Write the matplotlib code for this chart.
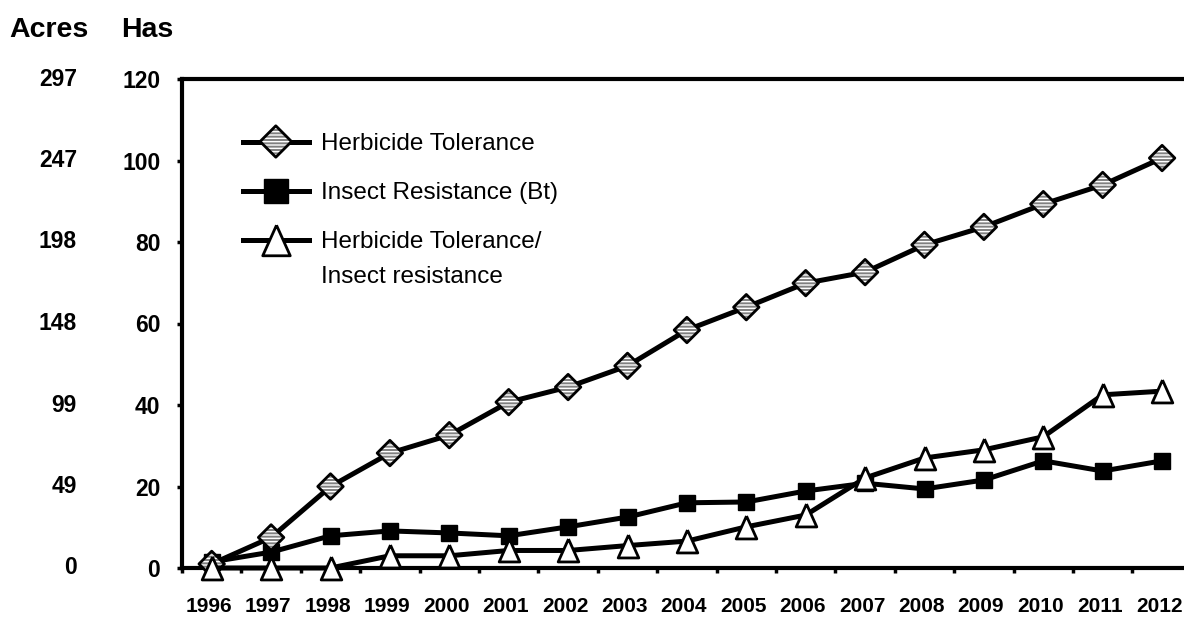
import matplotlib.pyplot as plt
from matplotlib.lines import Line2D
from matplotlib.legend_handler import HandlerTuple
from matplotlib import transforms

plt.rcParams['font.family'] = ['Liberation Sans', 'DejaVu Sans']

years = list(range(1996, 2013))
herbicide = [1.0, 7.5, 20.0, 28.2, 32.6, 40.7, 44.4, 49.6, 58.4, 64.0, 69.9, 72.6, 79.3, 83.7, 89.3, 94.0, 100.6]
insect = [1.5, 3.9, 7.9, 9.1, 8.6, 7.9, 10.1, 12.5, 16.0, 16.2, 18.9, 20.8, 19.4, 21.6, 26.3, 23.8, 26.3]
stacked = [0, 0, 0, 3.0, 3.0, 4.3, 4.3, 5.5, 6.6, 10.1, 13.0, 22.1, 27.0, 29.0, 32.2, 42.5, 43.4]
has_ticks = [0, 20, 40, 60, 80, 100, 120]
acres_labels = ['0', '49', '99', '148', '198', '247', '297']
labels = ['Herbicide Tolerance', 'Insect Resistance (Bt)', 'Herbicide Tolerance/']
label3_line2 = 'Insect resistance'

W, H = 1184, 619
fig = plt.figure(figsize=(W / 100, H / 100), dpi=100)
ax = fig.add_axes([182 / W, 1 - 568 / H, 1 - 182 / W, (568 - 79) / H])

lw = 3.6
tri = [(0, 1), (-0.9, -1), (0.9, -1), (0, 1)]
tick_fs = 16.5

# herbicide tolerance: line + hatched grey diamonds
ax.plot(years, herbicide, color='black', lw=lw, zorder=3, clip_on=False)
ax.scatter(years, herbicide, s=169, marker='D', facecolor='#808080', edgecolor='white',
           linewidths=0, hatch='-----', zorder=4, clip_on=False)
ax.scatter(years, herbicide, s=169, marker='D', facecolor='none', edgecolor='black',
           linewidths=2, zorder=5, clip_on=False)

# insect resistance
ax.plot(years, insect, color='black', lw=lw, marker='s', ms=12, mfc='black', mec='black',
        zorder=3, clip_on=False)

# stacked traits
ax.plot(years, stacked, color='black', lw=lw, marker=tri, ms=16.5, mfc='white', mec='black',
        mew=2, zorder=6, clip_on=False)

ax.set_xlim(1995.5, 1995.5 + (W - 182) / 59.4)
ax.set_ylim(0, 120)

for s in ['left', 'top', 'bottom']:
    ax.spines[s].set_linewidth(3)
ax.spines['right'].set_visible(False)

ax.set_xticks(years)
ax.set_xticklabels([str(y) for y in years], fontsize=15, fontweight='bold')
ax.set_xticks([y - 0.5 for y in years], minor=True)
ax.tick_params(axis='x', which='major', length=0, pad=21)
ax.tick_params(axis='x', which='minor', length=3.6, width=2.5, direction='out')
shift = transforms.ScaledTranslation(-3 / 100, 0, fig.dpi_scale_trans)
for lbl in ax.get_xticklabels():
    lbl.set_transform(lbl.get_transform() + shift)

ax.set_yticks(has_ticks)
ax.set_yticklabels([str(v) for v in has_ticks], fontsize=tick_fs, fontweight='bold')
ax.tick_params(axis='y', length=3.6, width=2.5, pad=12)

trans = transforms.blended_transform_factory(fig.transFigure, ax.transData)
for v, lab in zip(has_ticks, acres_labels):
    ax.text(77 / W, v, lab, transform=trans, ha='right', va='center', fontsize=tick_fs, fontweight='bold')

fig.text(49 / W, 1 - 30 / H, 'Acres', ha='center', va='center', fontsize=20.5, fontweight='bold')
fig.text(147 / W, 1 - 30 / H, 'Has', ha='center', va='center', fontsize=20.5, fontweight='bold')

# legend proxies
p_fill = ax.scatter([], [], s=256, marker='D', facecolor='#808080', edgecolor='white',
                    linewidths=0, hatch='-----')
p_edge = ax.scatter([], [], s=256, marker='D', facecolor='none', edgecolor='black', linewidths=2)
h1 = (Line2D([], [], color='black', lw=lw), p_fill, p_edge)
h2 = Line2D([], [], color='black', lw=lw, marker='s', ms=17, mfc='black', mec='black')
h3 = Line2D([], [], color='black', lw=lw, marker=tri, ms=22, mfc='white', mec='black', mew=2)

leg = ax.legend([h1, h2, h3], labels, handler_map={tuple: HandlerTuple(ndivide=1, pad=0)},
                loc='upper left', bbox_to_anchor=(243 / W, 1 - 133 / H),
                bbox_transform=fig.transFigure, frameon=False, fontsize=17.5,
                handlelength=2.7, handletextpad=0.5, labelspacing=1.12,
                borderpad=0, borderaxespad=0, scatteryoffsets=[0.5])

# second line of the third legend label, placed under the first line
fig.canvas.draw()
bb = leg.get_texts()[2].get_window_extent()
fig.text(bb.x0 / W, (bb.y0 - 35 + bb.height / 2) / H, label3_line2, ha='left', va='center',
         fontsize=17.5)

fig.savefig('out.png', dpi=100)
